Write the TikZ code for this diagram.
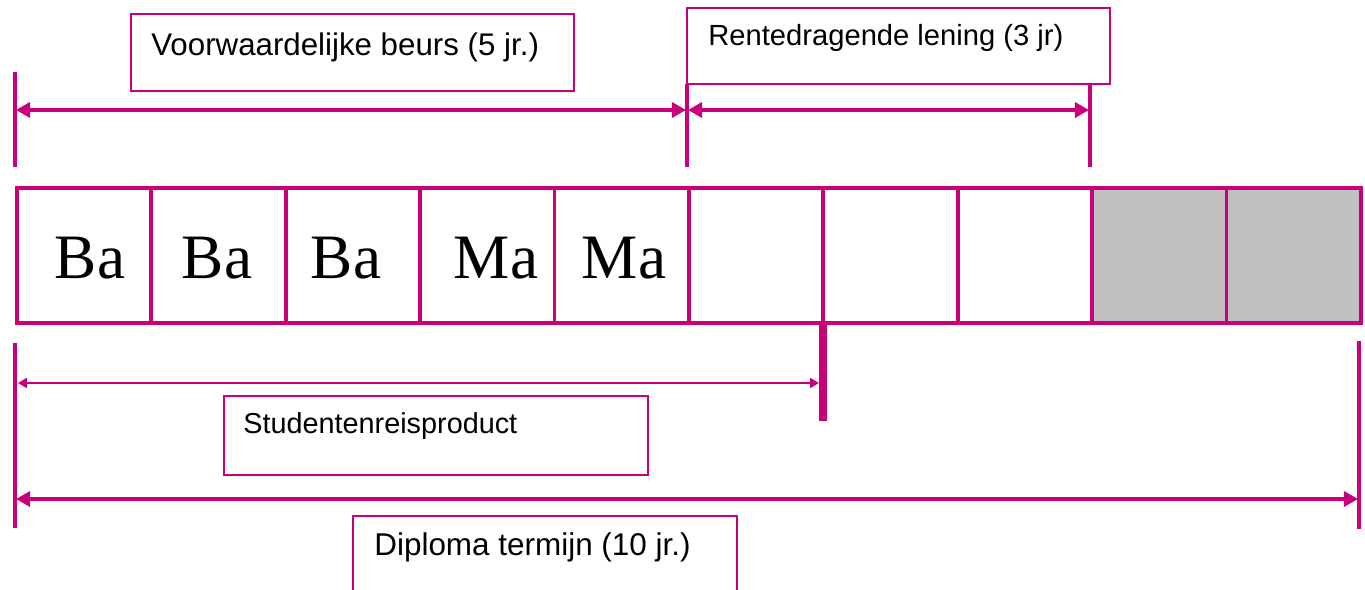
\documentclass[tikz,border=0pt]{standalone}
\usepackage{fontspec}
\setmainfont{Liberation Serif}
\setsansfont{Liberation Sans}
\usetikzlibrary{arrows.meta}
\definecolor{rim}{RGB}{200,0,122}
\definecolor{shade}{RGB}{192,192,192}
\tikzset{
	year/.style={
		draw = rim,
		line width = 2.2pt,
		minimum width = 2.688cm,
		minimum height = 2.7cm,
		inner sep = 0pt,
		anchor = north west
	},
	grade/.style={
		font = \fontsize{36}{40}\selectfont,
		anchor = base,
		inner sep = 0pt
	},
	labelbox/.style={
		draw = rim,
		line width = 1.1pt,
		inner sep = 0pt,
		anchor = north west
	},
	caption/.style={
		anchor = base west,
		inner sep = 0pt
	},
	tick/.style={
		rim,
		line width = 2.2pt
	},
	span/.style={
		rim,
		line width = 2.4pt,
		{Triangle[length=8pt,width=8.5pt]}-{Triangle[length=8pt,width=8.5pt]}
	},
}

\begin{document}
\begin{tikzpicture}[x=0.02cm, y=-0.02cm]
    \useasboundingbox (0,0) rectangle (1365,590);
    % the ten years
    \foreach \i in {1,...,8}{
      \node[year] (c\i) at ({15+134.4*(\i-1)},186) {};
    }
    \foreach \i in {9,10}{
      \node[year, fill=shade] (c\i) at ({15+134.4*(\i-1)},186) {};
    }
    \foreach \x/\t [count=\i] in {90/Ba, 217/Ba, 346/Ba, 496/Ma, 624/Ma}{
      \node[grade] (g\i) at (\x,279) {\t};
    }
    % labels
    \node[labelbox, minimum width=8.86cm, minimum height=1.54cm] (vwb) at (130,13) {};
    \node[caption, font=\sffamily\fontsize{17.8}{20}\selectfont] (vwt) at (151,56) {Voorwaardelijke beurs (5 jr.)};
    \node[labelbox, minimum width=8.46cm, minimum height=1.52cm] (rlb) at (686,7) {};
    \node[caption, font=\sffamily\fontsize{16.6}{19}\selectfont] (rlt) at (708,46) {Rentedragende lening (3 jr)};
    \node[labelbox, minimum width=8.48cm, minimum height=1.58cm] (srb) at (223,395) {};
    \node[caption, font=\sffamily\fontsize{16.4}{19}\selectfont] (srt) at (243,434) {Studentenreisproduct};
    \draw[rim, line width=1.1pt] (353,592) |- (737,516) -- (737,592);
    \node[caption, font=\sffamily\fontsize{17.9}{20}\selectfont] (dtt) at (374,556) {Diploma termijn (10 jr.)};
    % ticks
    \coordinate (ua0) at (15,72);    \coordinate (ua1) at (15,167);
    \coordinate (ub0) at (687,84);   \coordinate (ub1) at (687,167);
    \coordinate (uc0) at (1090,84);  \coordinate (uc1) at (1090,167);
    \coordinate (la0) at (15,343);   \coordinate (la1) at (15,528);
    \coordinate (lb0) at (823,321);  \coordinate (lb1) at (823,421);
    \coordinate (lc0) at (1359,341); \coordinate (lc1) at (1359,529);
    \draw[tick] (ua0) -- (ua1);
    \draw[tick] (ub0) -- (ub1);
    \draw[tick] (uc0) -- (uc1);
    \draw[tick] (la0) -- (la1);
    \draw[tick] (lc0) -- (lc1);
    \draw[tick, line width=5pt] (lb0) -- (lb1);
    % spans
    \coordinate (vw0) at (16,110);  \coordinate (vw1) at (686,110);
    \coordinate (rl0) at (688,110); \coordinate (rl1) at (1089,110);
    \coordinate (sr0) at (18,383);  \coordinate (sr1) at (819,383);
    \coordinate (dt0) at (16,499);  \coordinate (dt1) at (1358,499);
    \draw[span] (vw0) -- (vw1);
    \draw[span] (rl0) -- (rl1);
    \draw[span, line width=1.3pt, {Triangle[length=5pt,width=5.5pt]}-{Triangle[length=5pt,width=5.5pt]}] (sr0) -- (sr1);
    \draw[span] (dt0) -- (dt1);
\end{tikzpicture}
\end{document}
